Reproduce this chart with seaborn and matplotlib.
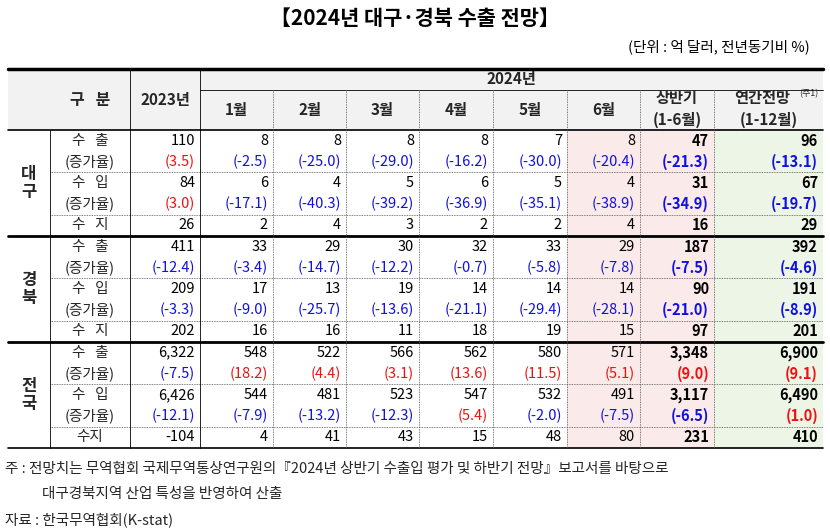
import matplotlib.pyplot as plt
from matplotlib.patches import Rectangle
import seaborn as sns

sns.set_theme(style='white')
plt.rcParams['font.family'] = ['Noto Sans CJK KR', 'Noto Sans CJK JP', 'Noto Sans CJK SC',
                               'Noto Sans CJK TC', 'DejaVu Sans']

# data
regions = ['대구', '경북', '전국']
months = ['1월', '2월', '3월', '4월', '5월', '6월']
# columns: 2023, 1..6월, 상반기, 연간
exports = [[110, 8, 8, 8, 8, 7, 8, 47, 96],
           [411, 33, 29, 30, 32, 33, 29, 187, 392],
           [6322, 548, 522, 566, 562, 580, 571, 3348, 6900]]
exp_rate = [[3.5, -2.5, -25.0, -29.0, -16.2, -30.0, -20.4, -21.3, -13.1],
            [-12.4, -3.4, -14.7, -12.2, -0.7, -5.8, -7.8, -7.5, -4.6],
            [-7.5, 18.2, 4.4, 3.1, 13.6, 11.5, 5.1, 9.0, 9.1]]
imports = [[84, 6, 4, 5, 6, 5, 4, 31, 67],
           [209, 17, 13, 19, 14, 14, 14, 90, 191],
           [6426, 544, 481, 523, 547, 532, 491, 3117, 6490]]
imp_rate = [[3.0, -17.1, -40.3, -39.2, -36.9, -35.1, -38.9, -34.9, -19.7],
            [-3.3, -9.0, -25.7, -13.6, -21.1, -29.4, -28.1, -21.0, -8.9],
            [-12.1, -7.9, -13.2, -12.3, 5.4, -2.0, -7.5, -6.5, 1.0]]
balance = [[26, 2, 4, 3, 2, 2, 4, 16, 29],
           [202, 16, 16, 11, 18, 19, 15, 97, 201],
           [-104, 4, 41, 43, 15, 48, 80, 231, 410]]

# layout in pixel coordinates
fig = plt.figure(figsize=(8.3, 5.29), dpi=100)
ax = fig.add_axes([0, 0, 1, 1])
ax.set_xlim(0, 830)
ax.set_ylim(529, 0)
ax.axis('off')

xs = [8, 50, 130, 200, 273, 346, 419, 493, 567, 640, 714, 823]
top, h1, h2 = 69, 90, 130
rh = 21.2
bottom = h2 + rh * 15
fs = 10.5
blue = '#1010e0'
red = '#f01010'

# backgrounds
ax.add_patch(Rectangle((xs[0], top), xs[-1] - xs[0], h2 - top, color='#f2f2f2', lw=0))
ax.add_patch(Rectangle((xs[8], h2), xs[10] - xs[8], bottom - h2, color='#fbeaea', lw=0))
ax.add_patch(Rectangle((xs[10], h2), xs[11] - xs[10], bottom - h2, color='#ecf5e6', lw=0))

# title
ax.text(415, 18, '【2024년 대구·경북 수출 전망】', ha='center', va='center', fontsize=15, fontweight='bold', color='black')
ax.text(810, 47, '(단위 : 억 달러, 전년동기비 %)', ha='right', va='center', fontsize=10.5, color='black')

# header
ax.text(90, 100, '구   분', ha='center', va='center', fontsize=11.5, fontweight='bold')
ax.text(165, 100, '2023년', ha='center', va='center', fontsize=11, fontweight='bold')
ax.text((xs[3] + xs[11]) / 2, 79, '2024년', ha='center', va='center', fontsize=11, fontweight='bold')
for i, m in enumerate(months):
    ax.text((xs[3 + i] + xs[4 + i]) / 2, 110, m, ha='center', va='center', fontsize=11, fontweight='bold')
ax.text((xs[9] + xs[10]) / 2, 98, '상반기', ha='center', va='center', fontsize=11, fontweight='bold')
ax.text((xs[9] + xs[10]) / 2, 120, '(1-6월)', ha='center', va='center', fontsize=11, fontweight='bold')
ax.text((xs[10] + xs[11]) / 2 - 6, 98, '연간전망', ha='center', va='center', fontsize=11, fontweight='bold')
ax.text(xs[11] - 24, 94, '(주1)', ha='left', va='center', fontsize=6.5)
ax.text((xs[10] + xs[11]) / 2, 120, '(1-12월)', ha='center', va='center', fontsize=11, fontweight='bold')

# header lines
ax.plot([xs[0], xs[-1]], [top, top], color='black', lw=2.5)
ax.plot([xs[3], xs[-1]], [h1, h1], color='black', lw=0.6)
ax.plot([xs[0], xs[-1]], [h2, h2], color='black', lw=1.2)

labels = ['수   출', '(증가율)', '수   입', '(증가율)', '수   지']
for r, reg in enumerate(regions):
    y0 = h2 + r * 5 * rh
    ax.text(29, y0 + 2.5 * rh, reg[0] + '\n' + reg[1], ha='center', va='center', fontsize=12, fontweight='bold', linespacing=1.0)
    rows = [exports[r], exp_rate[r], imports[r], imp_rate[r], balance[r]]
    for k, vals in enumerate(rows):
        yc = y0 + (k + 0.5) * rh
        lab = labels[k]
        if r == 2 and k == 4:
            lab = '수지'
        ax.text(90, yc, lab, ha='center', va='center', fontsize=fs)
        for c, v in enumerate(vals):
            bold = 'bold' if c >= 7 else 'normal'
            xr = xs[3 + c] - 5
            if k in (1, 3):
                ax.text(xr, yc, '(%.1f)' % v, ha='right', va='center', fontsize=fs,
                        color=red if v > 0 else blue, fontweight=bold)
            else:
                ax.text(xr, yc, f'{v:,}', ha='right', va='center', fontsize=fs,
                        color='black', fontweight=bold)
    for k in (2, 4):
        ax.plot([xs[1], xs[-1]], [y0 + k * rh] * 2, color='#555555', lw=0.6, ls=(0, (1, 1)))
    if r > 0:
        ax.plot([xs[0], xs[-1]], [y0, y0], color='black', lw=2)
ax.plot([xs[0], xs[-1]], [bottom, bottom], color='black', lw=1.2)

# vertical lines
ax.plot([xs[1], xs[1]], [h2, bottom], color='black', lw=0.6)
for x in (xs[2], xs[3]):
    ax.plot([x, x], [top, bottom], color='black', lw=0.6)
for x in xs[4:11]:
    ax.plot([x, x], [h1, bottom], color='#555555', lw=0.6, ls=(0, (1, 1)))

# footnotes
ax.text(5, 469, '주 : 전망치는 무역협회 국제무역통상연구원의『2024년 상반기 수출입 평가 및 하반기 전망』보고서를 바탕으로',
        ha='left', va='center', fontsize=10.5)
ax.text(42, 494, '대구경북지역 산업 특성을 반영하여 산출', ha='left', va='center', fontsize=10.5)
ax.text(5, 520, '자료 : 한국무역협회(K-stat)', ha='left', va='center', fontsize=10.5)

fig.savefig('out.png', dpi=100)
